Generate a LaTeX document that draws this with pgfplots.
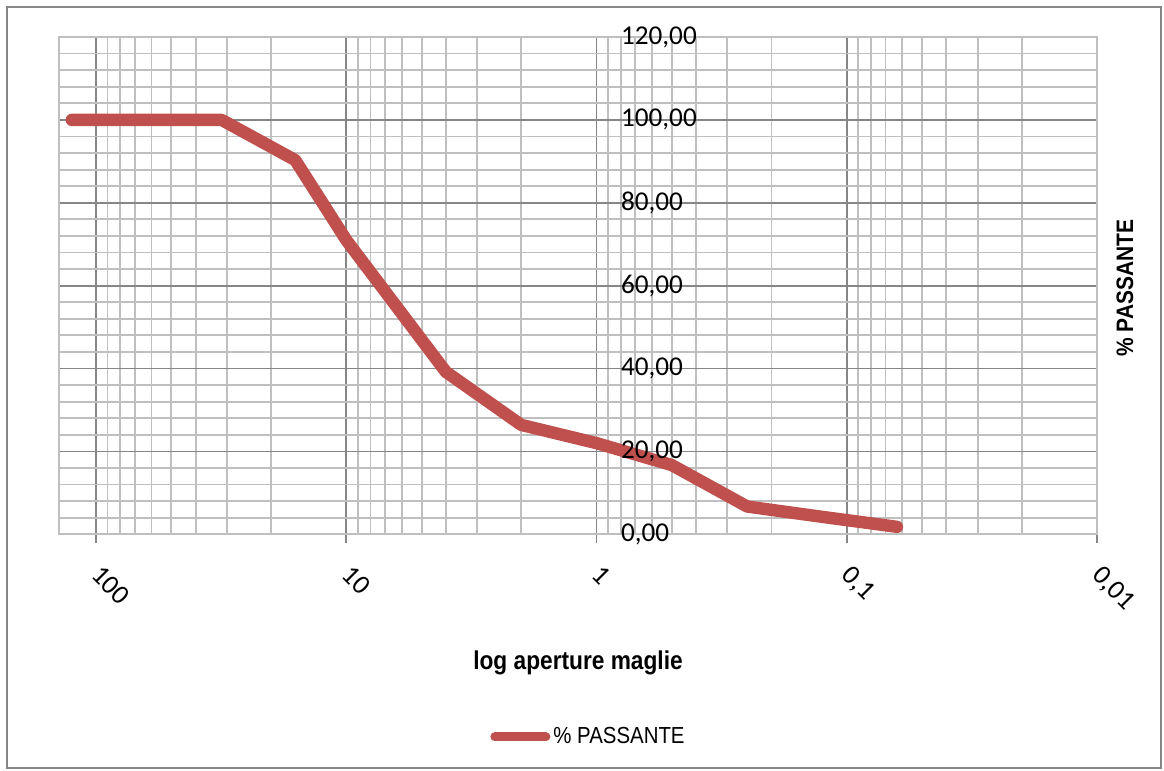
\documentclass[border=0pt]{standalone}
\usepackage{pgfplots}
\pgfplotsset{compat=1.18}
\usepackage{fontspec}
\setmainfont{Carlito}
\newfontfamily\narrowfont[FakeStretch=0.88]{Liberation Sans}
\definecolor{serie}{HTML}{C0504D}
\definecolor{majgrid}{HTML}{868686}
\definecolor{mingrid}{HTML}{BFBFBF}
\begin{document}
\begin{tikzpicture}
\useasboundingbox (0,0) rectangle (582bp,385.5bp);
\draw[majgrid, line width=0.9bp] (3.5bp,1.5bp) rectangle (580.5bp,382bp);
\begin{axis}[
  at={(29.5bp,118.35bp)}, anchor=south west,
  scale only axis, width=519bp, height=248.65bp,
  xmode=log, x dir=reverse,
  xmin=0.01, xmax=140.6, ymin=0, ymax=120,
  ticklabel style={font=\fontsize{13.6bp}{16bp}\selectfont},
  xtick={0.01,0.1,1,10,100},
  xticklabels={{0,01},{0,1},1,10,100},
  ytick={0,20,40,60,80,100,120},
  yticklabels={},
  minor y tick num=4,
  grid=both,
  major grid style={majgrid, line width=0.9bp},
  minor grid style={mingrid, line width=0.9bp},
  axis line style={mingrid, line width=0.9bp},
  tick align=outside,
  xtick pos=bottom,
  ytick pos=left,
  major tick length=4.5bp,
  minor tick length=0pt,
  xtick style={majgrid, line width=0.9bp},
  ytick style={draw=none},
  xticklabel style={rotate=-45, anchor=north west, xshift=6.3bp, yshift=-1.6bp},
  legend style={at={(0.4152,-0.4076)}, anchor=west, draw=none, fill=none,
    inner sep=0pt, font=\narrowfont\fontsize{11.6bp}{14bp}\selectfont,
    nodes={inner sep=1.5bp}},
  legend image code/.code={\draw[#1, line width=4.5bp, line cap=round] (0bp,0bp) -- (25.5bp,0bp);},
]
\addplot[serie, line width=6.2bp, line join=round, line cap=round] coordinates {
  (125,100) (31.5,100) (16,90.3) (10,71) (4,39.2) (2,26.4) (1,22.0)
  (0.5,16.7) (0.25,6.7) (0.125,4.2) (0.063,1.8)};
\addlegendentry{\% PASSANTE}
\end{axis}
\begin{axis}[
  at={(29.5bp,118.35bp)}, anchor=south west,
  scale only axis, width=519bp, height=248.65bp,
  xmode=log, x dir=reverse,
  xmin=0.01, xmax=140.6, ymin=0, ymax=120,
  ticklabel style={font=\fontsize{13.6bp}{16bp}\selectfont},
  axis line style={draw=none},
  xtick=\empty,
  ytick={0,20,40,60,80,100,120},
  yticklabels={{0,00},{20,00},{40,00},{60,00},{80,00},{100,00},{120,00}},
  ytick pos=left,
  ytick style={draw=none},
  yticklabel style={anchor=west, xshift=277.5bp},
]
\end{axis}
\node[font=\narrowfont\bfseries\fontsize{12.9bp}{15bp}\selectfont] at (289bp,54bp) {log aperture maglie};
\node[rotate=90, font=\narrowfont\bfseries\fontsize{11.9bp}{14bp}\selectfont] at (562.5bp,241.5bp) {\% PASSANTE};
\end{tikzpicture}
\end{document}
